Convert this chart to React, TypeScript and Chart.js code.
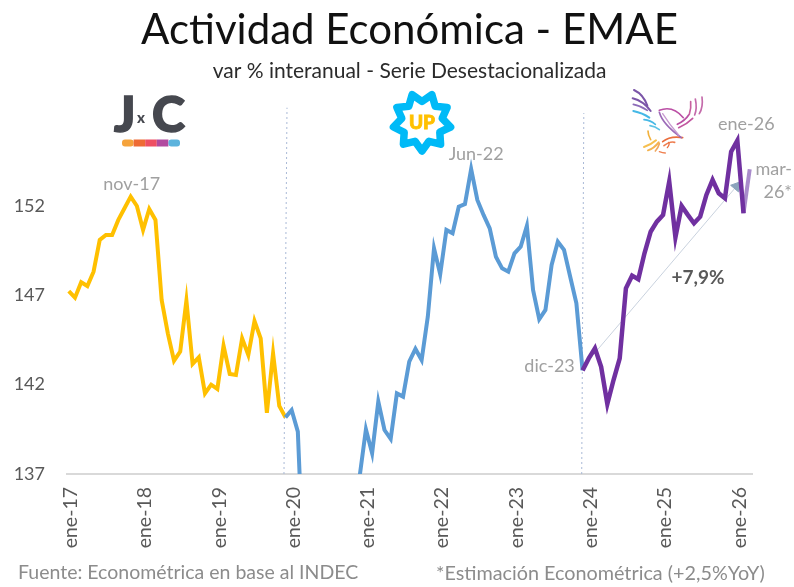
import React, { useEffect, useRef } from "react";
import { Chart, registerables } from "chart.js";

Chart.register(...registerables);

const FONT = "Lato, 'Open Sans', sans-serif";

const tickMonths = [0, 12, 24, 36, 48, 60, 72, 84, 96, 108];
const tickLabels = ["ene-17", "ene-18", "ene-19", "ene-20", "ene-21", "ene-22", "ene-23", "ene-24", "ene-25", "ene-26"];
const yTicks = [137, 142, 147, 152];

// JxC: ene-17 .. dic-19
const yellowValues = [
  147.24, 146.87, 147.73, 147.52, 148.32, 150.1, 150.38, 150.38, 151.22, 151.87, 152.52, 152.0,
  150.66, 151.83, 151.22, 146.74, 144.87, 143.34, 143.85, 146.7, 143.16, 143.53, 141.51, 142.0,
  141.76, 144.18, 142.6, 142.54, 144.59, 143.66, 145.56, 144.59, 140.43, 143.75, 140.81, 140.17,
];
// UP: dic-19 .. dic-23 (mar-20 .. dic-20 fall below the axis floor)
const blueStart = 35;
const blueValues = [
  140.17, 140.58, 139.37, 131, 118, 121, 127, 129, 131, 133, 134, 135, 136.9,
  139.5, 138.16, 141.05, 139.46, 138.96, 141.51, 141.33, 143.29, 144.0, 143.38, 145.81, 149.63,
  148.18, 150.66, 150.47, 151.96, 152.11, 154.07, 152.34, 151.5, 150.75, 149.16, 148.51, 148.32,
  149.35, 149.72, 150.88, 147.3, 145.66, 146.18, 148.7, 150.0, 149.54, 148.04, 146.55, 142.8,
];
// dic-23 .. feb-26
const purpleStart = 83;
const purpleValues = [
  142.8, 143.47, 144.03, 143.0, 140.92, 142.26, 143.47, 147.39, 148.1, 147.9, 149.35, 150.56,
  151.12, 151.5, 153.36, 150.25, 152.0, 151.5, 151.03, 151.4, 152.62, 153.46, 152.71, 152.43,
  155.04, 155.66, 151.59,
];
// feb-26 .. mar-26 (estimate)
const estimateStart = 109;
const estimateValues = [151.59, 154.05];

const divider1 = [{ x: 34.76, y: 137 }, { x: 35.25, y: 157.5 }];
const divider2 = [{ x: 82.86, y: 137 }, { x: 83.2, y: 157.2 }];
const arrowLine = [{ x: 83.07, y: 143.0 }, { x: 107.87, y: 153.1 }];

const annotations = [
  { text: "nov-17", m: 10, v: 152.52, dx: 1, dy: -12, color: "#a0a0a0", font: `18px ${FONT}` },
  { text: "Jun-22", m: 65, v: 154.07, dx: 5, dy: -15, color: "#a0a0a0", font: `18px ${FONT}` },
  { text: "dic-23", m: 83, v: 142.8, dx: -33, dy: -4, color: "#a0a0a0", font: `18px ${FONT}` },
  { text: "ene-26", m: 108, v: 155.66, dx: 9, dy: -16, color: "#a0a0a0", font: `18px ${FONT}` },
  { text: "mar-", m: 110, v: 154.05, dx: 24, dy: 0, color: "#a0a0a0", font: `18px ${FONT}` },
  { text: "26*", m: 110, v: 154.05, dx: 28, dy: 23, color: "#a0a0a0", font: `18px ${FONT}` },
  { text: "+7,9%", m: 101.5, v: 148.0, dx: 1, dy: 0, color: "#595959", font: `bold 19px ${FONT}` },
];

const seq = (start: number, values: number[]) => values.map((y, i) => ({ x: start + i, y }));

const labelPlugin = {
  id: "pointLabels",
  afterDatasetsDraw(chart: any) {
    const { ctx, scales } = chart;
    ctx.save();
    ctx.textAlign = "center";
    ctx.textBaseline = "middle";
    for (const a of annotations) {
      ctx.font = a.font;
      ctx.fillStyle = a.color;
      ctx.fillText(a.text, scales.x.getPixelForValue(a.m) + a.dx, scales.y.getPixelForValue(a.v) + a.dy);
    }
    ctx.restore();
  },
};

function starPoints(cx: number, cy: number, outer: number, inner: number, n: number) {
  const pts: string[] = [];
  for (let i = 0; i < n * 2; i++) {
    const r = i % 2 === 0 ? outer : inner;
    const a = (Math.PI * i) / n + Math.PI / 2;
    pts.push(`${(cx + r * Math.cos(a)).toFixed(1)},${(cy + r * Math.sin(a)).toFixed(1)}`);
  }
  return pts.join(" ");
}

const birdStrokes: [string, string, number][] = [
  ["M42 15 Q70 28 82 62", "#7b55a8", 6],
  ["M38 40 Q70 48 92 78", "#7b55a8", 6],
  ["M40 58 Q62 62 82 76", "#8d6cb8", 5],
  ["M40 78 Q68 84 88 98", "#45b8e6", 6],
  ["M72 104 Q92 106 106 118", "#45b8e6", 5],
  ["M90 122 Q106 124 118 134", "#5cc3e6", 5],
  ["M84 138 Q84 150 92 164", "#f2b13c", 5],
  ["M72 186 Q92 180 108 166", "#f6bf4f", 6],
  ["M84 196 Q102 190 116 172", "#f4b350", 6],
  ["M106 198 Q114 190 118 176", "#f0a860", 5],
  ["M118 200 Q128 204 136 204", "#ef8050", 4],
  ["M128 170 Q150 152 188 158", "#ea6e3d", 5],
  ["M132 182 Q150 168 164 172", "#ee7d4f", 5],
  ["M142 188 Q150 178 146 172", "#ea6e3d", 4],
  ["M118 76 Q158 60 190 98", "#bb4fa5", 5],
  ["M118 82 Q128 118 184 158", "#9c6bb8", 5],
  ["M128 86 Q148 118 176 150", "#c79ad0", 4],
  ["M172 118 Q196 106 206 90", "#b94fa3", 5],
  ["M176 128 Q200 118 218 100", "#c1569f", 5],
  ["M208 88 Q214 70 212 50", "#c8609f", 5],
  ["M224 90 Q232 70 226 42", "#c46aaa", 5],
  ["M238 86 Q250 66 246 36", "#c46aaa", 5],
];

const jxcSegments = ["#f5a33c", "#ee6b34", "#ee4f63", "#b14a9f", "#5cb3dd"];

export default function App() {
  const ref = useRef<HTMLCanvasElement | null>(null);

  useEffect(() => {
    document.body.style.margin = "0";
    const chart = new Chart(ref.current as HTMLCanvasElement, {
      type: "line",
      plugins: [labelPlugin],
      data: {
        datasets: [
          { data: seq(purpleStart, purpleValues), borderColor: "#7030A0", borderWidth: 4.5, pointRadius: 0, order: 1 },
          { data: seq(estimateStart, estimateValues), borderColor: "#A98BCB", borderWidth: 4, pointRadius: 0, order: 2 },
          { data: seq(blueStart, blueValues), borderColor: "#5B9BD5", borderWidth: 4, pointRadius: 0, order: 3 },
          { data: seq(0, yellowValues), borderColor: "#FFC000", borderWidth: 4, pointRadius: 0, order: 4 },
          {
            data: arrowLine,
            borderColor: "#c9d2de",
            borderWidth: 1,
            pointRadius: [0, 6],
            pointStyle: "triangle",
            pointRotation: 40,
            pointBackgroundColor: "#8ba3bc",
            pointBorderColor: "#8ba3bc",
            order: 5,
          },
          { data: divider1, borderColor: "#a9b9d6", borderWidth: 1, borderDash: [2, 3], pointRadius: 0, order: 6 },
          { data: divider2, borderColor: "#a9b9d6", borderWidth: 1, borderDash: [2, 3], pointRadius: 0, order: 6 },
        ] as any,
      },
      options: {
        responsive: false,
        animation: false,
        layout: { padding: { right: 42, top: 0, left: 0, bottom: 0 } },
        plugins: {
          legend: { display: false },
          tooltip: { enabled: false },
          title: {
            display: true,
            fullSize: false,
            text: "Actividad Económica - EMAE",
            color: "#111111",
            font: { family: FONT, size: 42, weight: "normal", lineHeight: 1.2 },
            padding: { top: 5, bottom: 3 },
          },
          subtitle: {
            display: true,
            fullSize: false,
            text: "var % interanual - Serie Desestacionalizada",
            color: "#2b2b2b",
            font: { family: FONT, size: 21, weight: "normal", lineHeight: 1.2 },
            padding: { top: 0, bottom: 16.4 },
          },
        },
        scales: {
          x: {
            type: "linear",
            min: -0.29,
            max: 110.37,
            grid: { display: false, drawTicks: false },
            border: { color: "#d9d9d9", width: 2 },
            afterBuildTicks: (s: any) => { s.ticks = tickMonths.map((value) => ({ value })); },
            afterFit: (s: any) => { s.height = 113; },
            ticks: {
              autoSkip: false,
              minRotation: 90,
              maxRotation: 90,
              padding: 13,
              labelOffset: 2,
              color: "#595959",
              font: { family: FONT, size: 19.5 },
              callback: (v: any) => tickLabels[tickMonths.indexOf(Number(v))],
            },
          },
          y: {
            type: "linear",
            min: 137,
            max: 157.93,
            grid: { display: false, drawTicks: false },
            border: { display: false },
            afterBuildTicks: (s: any) => { s.ticks = yTicks.map((value) => ({ value })); },
            afterFit: (s: any) => { s.width = 67; },
            ticks: { padding: 22, color: "#595959", font: { family: FONT, size: 18 } },
          },
        },
      } as any,
    });
    return () => chart.destroy();
  }, []);

  return (
    <div style={{ position: "relative", width: 794, height: 587, background: "#fff", overflow: "hidden", filter: "blur(0.6px)" }}>
      <canvas ref={ref} width={794} height={587} style={{ position: "absolute", left: 0, top: 0 }} />
      {/* JxC logo */}
      <svg width={90} height={60} style={{ position: "absolute", left: 105, top: 90 }} viewBox="0 0 90 60">
        <text x={9} y={42} fontFamily={FONT} fontWeight={900} fontSize={50} fill="#46484f" stroke="#46484f" strokeWidth={1.5}>J</text>
        <text x={32} y={33} fontFamily={FONT} fontWeight={900} fontSize={15} fill="#46484f">x</text>
        <text x={47} y={42} fontFamily={FONT} fontWeight={900} fontSize={50} fill="#46484f" stroke="#46484f" strokeWidth={1.5}>C</text>
        {jxcSegments.map((c, i) => (
          <rect key={c} x={17 + i * 11.6} y={49.5} width={11.6} height={7} fill={c} rx={i === 0 || i === 4 ? 3 : 0} />
        ))}
      </svg>
      {/* UP logo */}
      <svg width={80} height={80} style={{ position: "absolute", left: 382, top: 82 }} viewBox="0 0 80 80">
        <polygon points={starPoints(40, 40, 29, 20.5, 9)} fill="#fff" stroke="#00BAF7" strokeWidth={7.5} strokeLinejoin="round" />
        <text x={40} y={47} textAnchor="middle" fontFamily={FONT} fontWeight={900} fontSize={19} fill="#FFC000" stroke="#FFC000" strokeWidth={0.8}>UP</text>
      </svg>
      {/* Bird logo */}
      <svg width={90} height={75} style={{ position: "absolute", left: 620, top: 85 }} viewBox="0 0 270 225">
        {birdStrokes.map(([d, c, w], i) => (
          <path key={i} d={d} fill="none" stroke={c} strokeWidth={w} strokeLinecap="round" />
        ))}
      </svg>
      <div style={{ position: "absolute", left: 18, top: 560, font: `19.5px ${FONT}`, color: "#8c8c8c", whiteSpace: "nowrap" }}>
        Fuente: Econométrica en base al INDEC
      </div>
      <div style={{ position: "absolute", left: 436, top: 560, font: `19.8px ${FONT}`, color: "#8c8c8c", whiteSpace: "nowrap" }}>
        *Estimación Econométrica (+2,5%YoY)
      </div>
    </div>
  );
}
